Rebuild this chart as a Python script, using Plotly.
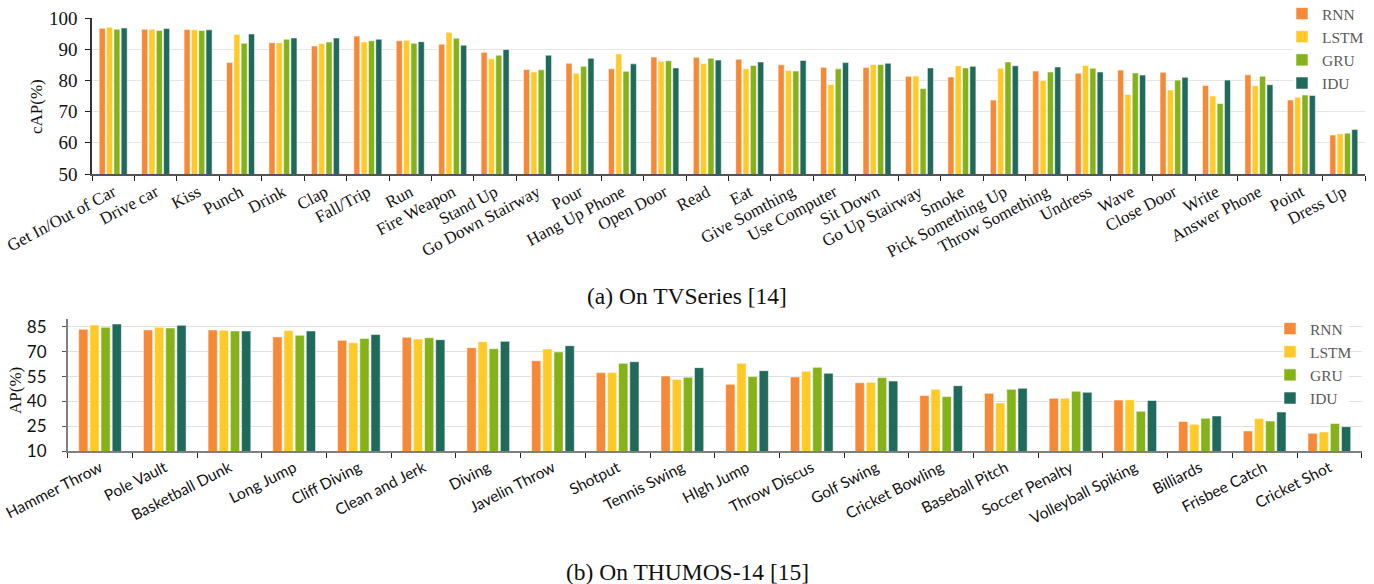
import plotly.graph_objects as go

# ---------------- Data ----------------
series_names = ["RNN", "LSTM", "GRU", "IDU"]
series_colors = ["#F58937", "#FFCA28", "#84B218", "#206A5C"]

tv_categories = ["Get In/Out of Car", "Drive car", "Kiss", "Punch", "Drink", "Clap",
                 "Fall/Trip", "Run", "Fire Weapon", "Stand Up", "Go Down Stairway",
                 "Pour", "Hang Up Phone", "Open Door", "Read", "Eat", "Give Somthing",
                 "Use Computer", "Sit Down", "Go Up Stairway", "Smoke",
                 "Pick Something Up", "Throw Something", "Undress", "Wave",
                 "Close Door", "Write", "Answer Phone", "Point", "Dress Up"]
tv_rnn = [96.7, 96.4, 96.3, 85.7, 92.1, 91.0, 94.2, 92.7, 91.6, 89.0, 83.5, 85.5, 83.7,
          87.5, 87.4, 86.8, 85.0, 84.2, 84.1, 81.3, 81.1, 73.7, 83.0, 82.3, 83.3, 82.6,
          78.4, 81.8, 73.7, 62.5]
tv_lstm = [97.0, 96.4, 96.2, 94.7, 92.1, 91.8, 92.3, 92.9, 95.4, 86.9, 82.7, 82.3, 88.5,
           86.1, 85.4, 83.7, 83.2, 78.7, 85.1, 81.4, 84.7, 83.9, 80.0, 84.8, 75.5, 76.9,
           75.0, 78.3, 74.6, 62.9]
tv_gru = [96.4, 96.0, 96.0, 91.9, 93.2, 92.3, 92.7, 91.9, 93.5, 88.1, 83.4, 84.5, 82.9,
          86.3, 87.1, 84.8, 83.0, 83.7, 85.1, 77.4, 84.0, 85.9, 82.7, 83.9, 82.4, 80.1,
          72.6, 81.3, 75.3, 63.1]
tv_idu = [96.8, 96.6, 96.2, 94.9, 93.6, 93.6, 93.2, 92.4, 91.3, 89.9, 88.1, 87.1, 85.3,
          84.0, 86.5, 85.9, 86.4, 85.7, 85.5, 84.0, 84.5, 84.7, 84.3, 82.7, 81.7, 81.0,
          80.1, 78.6, 75.2, 64.3]
tv_yticks = [50, 60, 70, 80, 90, 100]

th_categories = ["Hammer Throw", "Pole Vault", "Basketball Dunk", "Long Jump",
                 "Cliff Diving", "Clean and Jerk", "Diving", "Javelin Throw", "Shotput",
                 "Tennis Swing", "HIgh Jump", "Throw Discus", "Golf Swing",
                 "Cricket Bowling", "Baseball Pitch", "Soccer Penalty",
                 "Volleyball Spiking", "Billiards", "Frisbee Catch", "Cricket Shot"]
th_rnn = [83.6, 83.2, 83.2, 79.0, 76.9, 78.8, 72.5, 64.6, 57.4, 55.4, 50.3, 54.8, 51.3,
          43.5, 44.9, 41.9, 40.8, 27.9, 22.1, 20.7]
th_lstm = [86.2, 84.8, 83.0, 82.8, 75.5, 77.7, 76.1, 71.7, 57.4, 53.3, 63.0, 58.2, 51.5,
           47.3, 39.0, 41.9, 41.0, 26.1, 29.6, 21.5]
th_gru = [84.8, 84.4, 82.6, 80.0, 78.1, 78.5, 71.9, 69.9, 63.0, 54.6, 55.0, 60.6, 54.4,
          42.9, 47.3, 46.1, 34.0, 29.8, 28.1, 26.7]
th_idu = [86.8, 86.0, 82.6, 82.6, 80.4, 77.3, 76.3, 73.7, 64.0, 60.4, 58.6, 57.0, 52.3,
          49.5, 47.9, 45.5, 40.6, 31.2, 33.6, 24.7]
th_yticks = [10, 25, 40, 55, 70, 85]

tv_series = [tv_rnn, tv_lstm, tv_gru, tv_idu]
th_series = [th_rnn, th_lstm, th_gru, th_idu]

# ---------------- Figure ----------------
W, H = 1374, 584
SERIF = "Liberation Serif, Times New Roman, serif"
SANS = "Lato, Carlito, Calibri, sans-serif"

fig = go.Figure()
for name, color, vals in zip(series_names, series_colors, tv_series):
    fig.add_trace(go.Bar(x=tv_categories, y=vals, name=name, xaxis="x", yaxis="y",
                         marker=dict(color=color, line=dict(color="rgba(255,255,255,0.55)", width=1)),
                         legend="legend"))
for name, color, vals in zip(series_names, series_colors, th_series):
    fig.add_trace(go.Bar(x=th_categories, y=vals, name=name, xaxis="x2", yaxis="y2",
                         marker=dict(color=color, line=dict(color="rgba(255,255,255,0.55)", width=1)),
                         legend="legend2"))


def px_x(p):
    return p / W


def px_y(p):
    return 1 - p / H


legend_font = dict(family=SERIF, size=15.5, color="#595959")

fig.update_layout(
    template="plotly_white",
    width=W, height=H,
    margin=dict(l=0, r=0, t=0, b=0, autoexpand=False),
    paper_bgcolor="white", plot_bgcolor="white",
    barmode="group", bargap=0.31, bargroupgap=0.17,
    xaxis=dict(domain=[px_x(92), px_x(1365)], anchor="y", type="category",
               automargin=False,
               tickangle=-28, tickson="boundaries", ticks="outside", ticklen=5,
               tickcolor="#222", showline=True, linecolor="#555", linewidth=1.5,
               tickfont=dict(family=SERIF, size=17, color="#111"), showgrid=False),
    yaxis=dict(domain=[px_y(174), px_y(18)], anchor="x", range=[50, 100],
               automargin=False,
               tickvals=tv_yticks, ticks="outside", ticklen=5, tickcolor="#222",
               showline=True, linecolor="#333", linewidth=1.5,
               showgrid=True, gridcolor="#e6e6e6", gridwidth=1.2, zeroline=False,
               ticklabelstandoff=4,
               tickfont=dict(family=SERIF, size=19, color="#111")),
    xaxis2=dict(domain=[px_x(67.7), px_x(1361.7)], anchor="y2", type="category",
                automargin=False,
                tickangle=-27, tickson="boundaries", ticks="outside", ticklen=5,
                tickcolor="#222", showline=True, linecolor="#7f7f7f", linewidth=2,
                tickfont=dict(family=SANS, size=15.5, color="#111"), showgrid=False),
    yaxis2=dict(domain=[px_y(451), px_y(318.7)], anchor="x2", range=[10, 90],
                automargin=False,
                tickvals=th_yticks, ticks="outside", ticklen=4, tickcolor="#555",
                showline=True, linecolor="#7f7f7f", linewidth=1.5,
                showgrid=True, gridcolor="#e0e0e0", gridwidth=1.2, zeroline=False,
                ticklabelstandoff=12,
                tickfont=dict(family=SANS, size=17, color="#111")),
    legend=dict(x=px_x(1282), y=px_y(-3), xanchor="left", yanchor="top",
                bgcolor="rgba(0,0,0,0)", borderwidth=0, itemwidth=30,
                font=legend_font, tracegroupgap=0),
    legend2=dict(x=px_x(1270), y=px_y(312), xanchor="left", yanchor="top",
                 bgcolor="rgba(0,0,0,0)", borderwidth=0, itemwidth=30,
                 font=legend_font, tracegroupgap=0),
    shapes=[
        # white patches behind the legends (hide gridlines, stay under bars)
        dict(type="rect", xref="x", yref="y", x0=27.8, x1=29.5, y0=76.5, y1=101,
             fillcolor="white", line=dict(width=0), layer="between"),
        dict(type="rect", xref="x2", yref="y2", x0=18.28, x1=19.3, y0=37.5, y1=91,
             fillcolor="white", line=dict(width=0), layer="between"),
    ],
    annotations=[
        dict(text="cAP(%)", x=px_x(36), y=px_y(107), xref="paper", yref="paper",
             textangle=-90, showarrow=False, xanchor="center", yanchor="middle",
             font=dict(family=SERIF, size=17, color="#111")),
        dict(text="AP(%)", x=px_x(15), y=px_y(391), xref="paper", yref="paper",
             textangle=-90, showarrow=False, xanchor="center", yanchor="middle",
             font=dict(family=SERIF, size=17, color="#111")),
        dict(text="(a) On TVSeries [14]", x=px_x(687), y=px_y(296), xref="paper",
             yref="paper", showarrow=False, xanchor="center", yanchor="middle",
             font=dict(family=SERIF, size=23.5, color="#111")),
        dict(text="(b) On THUMOS-14 [15]", x=px_x(687), y=px_y(572), xref="paper",
             yref="paper", showarrow=False, xanchor="center", yanchor="middle",
             font=dict(family=SERIF, size=23.5, color="#111")),
    ],
)

fig.write_html(
    "out.html",
    config={"displayModeBar": False},
    post_script="document.body.style.margin='0';document.body.style.overflow='hidden';",
)
